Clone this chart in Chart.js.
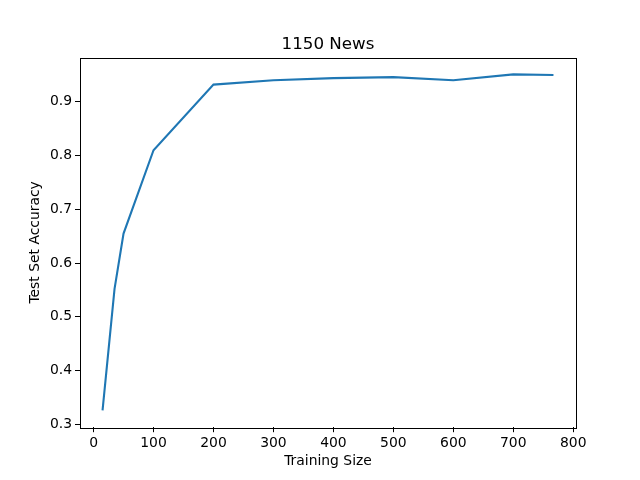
<!DOCTYPE html>
<html>
<head>
<meta charset="utf-8">
<script src="https://cdn.jsdelivr.net/npm/chart.js@4"></script>
<style>
  html, body { margin: 0; padding: 0; background: #fff; }
  #wrap { width: 640px; height: 480px; }
</style>
</head>
<body>
<div id="wrap"><canvas id="myChart" width="640" height="480"></canvas></div>
<script>
const trainSize = [15, 35, 50, 100, 200, 300, 400, 500, 600, 700, 767];
const accuracy = [0.326, 0.552, 0.655, 0.810, 0.932, 0.940, 0.944, 0.946, 0.940, 0.951, 0.950];
const xTicks = [0, 100, 200, 300, 400, 500, 600, 700, 800];
const yTicks = [0.3, 0.4, 0.5, 0.6, 0.7, 0.8, 0.9];
const chartTitle = '1150 News';

const ctx = document.getElementById('myChart').getContext('2d');
Chart.defaults.font.family = "'DejaVu Sans', sans-serif";
Chart.defaults.font.size = 13.9;
Chart.defaults.color = '#000';

// plot frame (all four spines) + title centred over the plot area
const frame = {
  id: 'frame',
  afterDraw(chart) {
    const a = chart.chartArea;
    const c = chart.ctx;
    c.save();
    c.strokeStyle = '#000';
    c.lineWidth = 1;
    c.strokeRect(Math.round(a.left) + 0.5, Math.round(a.top) + 0.5,
      Math.round(a.right - a.left), Math.round(a.bottom - a.top));
    c.fillStyle = '#000';
    c.font = "16.7px 'DejaVu Sans', sans-serif";
    c.textAlign = 'center';
    c.textBaseline = 'alphabetic';
    c.fillText(chartTitle, (a.left + a.right) / 2, a.top - 8.3);
    c.restore();
  }
};

let xSpan = trainSize[trainSize.length - 1] - trainSize[0];
let yMin = Math.min(...accuracy), yMax = Math.max(...accuracy);
let ySpan = yMax - yMin;

new Chart(ctx, {
  type: 'line',
  data: {
    datasets: [{
      data: trainSize.map((x, i) => ({x: x, y: accuracy[i]})),
      borderColor: '#1f77b4',
      borderWidth: 2.1,
      pointRadius: 0,
      tension: 0,
      fill: false
    }]
  },
  options: {
    responsive: false,
    animation: false,
    layout: { padding: { left: 0, right: 64, top: 57.6, bottom: 0 } },
    plugins: {
      legend: { display: false },
      tooltip: { enabled: false },
      title: { display: false }
    },
    scales: {
      x: {
        type: 'linear',
        min: trainSize[0] - 0.05 * xSpan,
        max: trainSize[trainSize.length - 1] + 0.05 * xSpan,
        afterBuildTicks: s => { s.ticks = xTicks.map(v => ({value: v})); },
        afterFit: s => { s.height = 52.8; },
        grid: { drawOnChartArea: false, drawTicks: true, tickLength: 5, color: '#000' },
        border: { display: false },
        ticks: { padding: 3, maxRotation: 0, autoSkip: false, callback: v => String(v) },
        title: { display: true, text: 'Training Size', padding: { top: 10, bottom: 10 } }
      },
      y: {
        min: yMin - 0.05 * ySpan,
        max: yMax + 0.05 * ySpan,
        afterBuildTicks: s => { s.ticks = yTicks.map(v => ({value: v})); },
        afterFit: s => { s.width = 80; },
        grid: { drawOnChartArea: false, drawTicks: true, tickLength: 5, color: '#000' },
        border: { display: false },
        ticks: { padding: 3, autoSkip: false, callback: v => v.toFixed(1) },
        title: { display: true, text: 'Test Set Accuracy', padding: { top: 27, bottom: 27 } }
      }
    }
  },
  plugins: [frame]
});
</script>
</body>
</html>
